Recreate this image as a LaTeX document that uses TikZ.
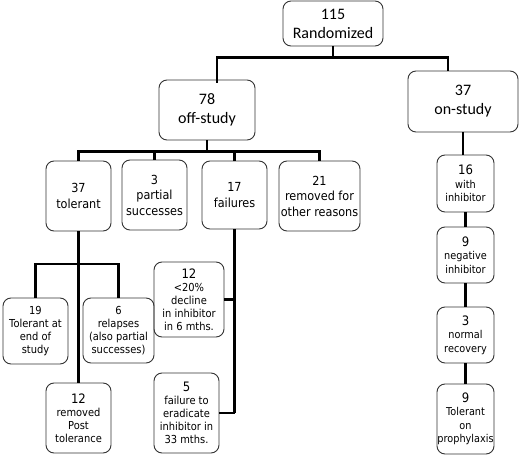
\documentclass[tikz,border=0pt]{standalone}
\usepackage{fontspec}
\newfontfamily\topfont{Carlito}
\newfontfamily\boxfont[FakeStretch=0.9]{DejaVu Sans}
\newcommand{\bignum}[1]{{\fontsize{13}{14}\selectfont #1}}

\tikzset{every picture/.style={line width=0.75pt}}
\tikzset{
	box/.style={draw=black!80, rounded corners=8pt, align=center, inner sep=1pt, line width=0.9pt},
	topbox/.style={box, font=\topfont\fontsize{16}{19}\selectfont},
	midbox/.style={box, font=\boxfont\fontsize{12.5}{15.5}\selectfont},
	smallbox/.style={box, font=\boxfont\fontsize{11}{13}\selectfont},
	tinybox/.style={box, font=\boxfont\fontsize{10.8}{13.5}\selectfont},
	link/.style={line width=2.1pt}
}

\begin{document}
\begin{tikzpicture}[x=1pt,y=1pt,yscale=-1,xscale=1]
	\useasboundingbox (0,0) rectangle (520,455);

	% top level
	\node[topbox, minimum width=100pt, minimum height=45pt] (rand) at (333,23.5) {115\\Randomized};
	\node[topbox, minimum width=96pt, minimum height=60pt] (off) at (207,110) {78\\off-study};
	\node[topbox, minimum width=110pt, minimum height=61pt] (on) at (463,101.5) {37\\on-study};

	% off-study branch
	\node[midbox, minimum width=65pt, minimum height=70pt] (tol) at (78.5,196) {37\\tolerant};
	\node[midbox, minimum width=65pt, minimum height=70pt] (part) at (154.5,195) {3\\partial\\successes};
	\node[midbox, minimum width=65pt, minimum height=68pt] (fail) at (234.5,195) {17\\failures};
	\node[midbox, minimum width=81pt, minimum height=70pt] (other) at (319.5,196) {21\\removed for\\other reasons};

	% tolerant branch
	\node[smallbox, minimum width=65pt, minimum height=66pt] (endstudy) at (35.5,331) {19\\Tolerant at\\end of\\study};
	\node[smallbox, minimum width=71pt, minimum height=65pt] (relapse) at (118.5,330.5) {6\\relapses\\(also partial\\successes)};
	\node[smallbox, minimum width=65pt, minimum height=70pt] (posttol) at (78.5,418) {\bignum{12}\\removed\\Post\\tolerance};

	% failures branch
	\node[smallbox, minimum width=70pt, minimum height=75pt] (decline) at (189,299.5) {\bignum{12}\\{<}20\%\\decline\\in inhibitor\\in 6 mths.};
	\node[smallbox, minimum width=65pt, minimum height=80pt] (eradic) at (186.5,413) {\bignum{5}\\failure to\\eradicate\\inhibitor in\\33 mths.};

	% on-study branch
	\node[tinybox, minimum width=57pt, minimum height=57pt] (withinh) at (465.5,183.5) {\bignum{16}\\with\\inhibitor};
	\node[tinybox, minimum width=57pt, minimum height=56pt] (neginh) at (465.5,255) {\bignum{9}\\negative\\inhibitor};
	\node[tinybox, minimum width=57pt, minimum height=56pt] (normrec) at (465.5,335) {\bignum{3}\\normal\\recovery};
	\node[tinybox, minimum width=57pt, minimum height=70pt, inner sep=0pt] (proph) at (465.5,419) {\bignum{9}\\Tolerant\\on\\prophylaxis};

	% connectors
	\draw[link] (rand.south) -- ++(0,11) coordinate (bus1);
	\draw[link] ([xshift=10pt,yshift=3pt]off.north) |- (bus1) -| ([xshift=-15pt]on.north);
	\draw[link] (off.south) -- ++(0,11) coordinate (bus2);
	\draw[link] (tol.north) |- (bus2) -| (other.north);
	\draw[link] (part.north) -- (part.north |- bus2);
	\draw[link] (fail.north) -- (fail.north |- bus2);

	\draw[link] (tol.south) -- (posttol.north);
	\draw[link] (endstudy.north) -- ++(0,-34) coordinate (bus3) -| (relapse.north);

	\draw[link] (fail.south) -- (fail.south |- eradic.east) coordinate (failend);
	\draw[link] (failend) -- (eradic.east);
	\draw[link] (decline.east) -- (decline.east -| failend);

	\draw[link] (on.south) -- (on.south |- withinh.north);
	\draw[link] (withinh) -- (neginh);
	\draw[link] (neginh) -- (normrec);
	\draw[link] (normrec) -- (proph);
\end{tikzpicture}
\end{document}
